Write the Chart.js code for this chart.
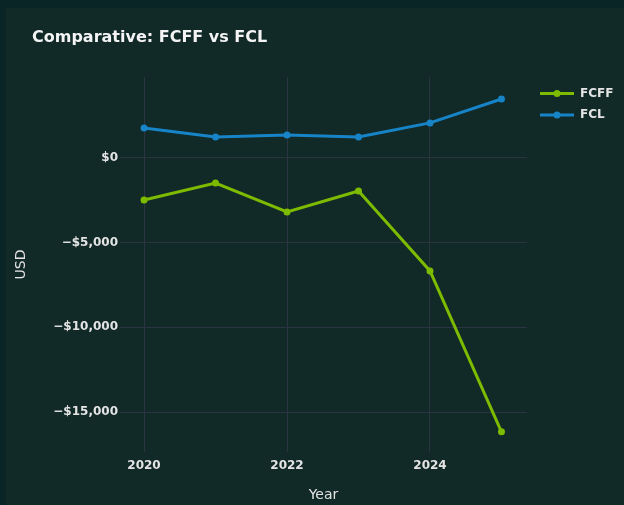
<!DOCTYPE html>
<html>
<head>
<meta charset="utf-8">
<title>Comparative: FCFF vs FCL</title>
<script src="https://cdn.jsdelivr.net/npm/chart.js@4"></script>
<style>
  html, body { margin: 0; padding: 0; width: 624px; height: 505px; overflow: hidden; background: #0a2525; }
  #wrap { position: absolute; left: 6px; top: 8px; width: 618px; height: 497px; background: #112927; }
</style>
</head>
<body>
<div id="wrap"><canvas id="myChart" width="618" height="497"></canvas></div>
<script>
// data
const years = [2020, 2021, 2022, 2023, 2024, 2025];
const fcff = [-2480, -1480, -3190, -1950, -6670, -16170];
const fcl = [1770, 1240, 1360, 1240, 2070, 3480];
const xTicks = [2020, 2022, 2024];
const yTicks = [0, -5000, -10000, -15000];

const textColor = '#e4e4e4';
const gridColor = '#2a3541';
const FONT = "'DejaVu Sans', Verdana, sans-serif";

function money(v) {
  if (v === 0) return '$0';
  return (v < 0 ? '\u2212' : '') + '$' + Math.abs(v).toLocaleString('en-US');
}

// title + plotly style legend drawn by hand
const extras = {
  id: 'extras',
  afterDraw(chart) {
    const ctx = chart.ctx;
    ctx.save();
    ctx.fillStyle = '#f4f4f4';
    ctx.font = 'bold 16px ' + FONT;
    ctx.textBaseline = 'alphabetic';
    ctx.fillText('Comparative: FCFF vs FCL', 26, 34);

    chart.data.datasets.forEach((ds, i) => {
      const y = 85.5 + i * 21.5;
      ctx.strokeStyle = ds.borderColor;
      ctx.lineWidth = 3;
      ctx.beginPath();
      ctx.moveTo(534, y);
      ctx.lineTo(568, y);
      ctx.stroke();
      ctx.fillStyle = ds.borderColor;
      ctx.beginPath();
      ctx.arc(551, y, 3.5, 0, Math.PI * 2);
      ctx.fill();
      ctx.fillStyle = textColor;
      ctx.font = 'bold 12px ' + FONT;
      ctx.textBaseline = 'middle';
      ctx.fillText(ds.label, 574, y);
    });
    ctx.restore();
  }
};

const ctx = document.getElementById('myChart');

new Chart(ctx, {
  type: 'line',
  data: {
    datasets: [{
      label: 'FCFF',
      data: years.map((x, i) => ({ x: x, y: fcff[i] })),
      borderColor: '#7dbb00',
      backgroundColor: '#7dbb00',
      borderWidth: 3,
      pointRadius: 3.5,
      pointBorderWidth: 0,
      tension: 0
    }, {
      label: 'FCL',
      data: years.map((x, i) => ({ x: x, y: fcl[i] })),
      borderColor: '#1784c7',
      backgroundColor: '#1784c7',
      borderWidth: 3,
      pointRadius: 3.5,
      pointBorderWidth: 0,
      tension: 0
    }]
  },
  options: {
    responsive: false,
    animation: false,
    devicePixelRatio: 1,
    layout: { padding: { top: 69, right: 97, left: 0, bottom: 0 } },
    plugins: {
      legend: { display: false },
      title: { display: false },
      tooltip: { enabled: false }
    },
    scales: {
      x: {
        type: 'linear',
        min: 2019.664,
        max: 2025.357,
        afterBuildTicks: s => { s.ticks = xTicks.map(v => ({ value: v })); },
        afterFit: s => { s.height = 53; },
        border: { display: false },
        grid: { color: gridColor, drawTicks: false, lineWidth: 1 },
        ticks: {
          callback: v => String(v),
          color: textColor,
          font: { family: FONT, size: 12, weight: 'bold' },
          padding: 7,
          maxRotation: 0,
          autoSkip: false
        },
        title: {
          display: true,
          text: 'Year',
          color: textColor,
          font: { family: FONT, size: 14, weight: 'normal' },
          padding: { top: 0, bottom: 1 }
        }
      },
      y: {
        min: -17360,
        max: 4780,
        afterBuildTicks: s => { s.ticks = yTicks.map(v => ({ value: v })); },
        afterFit: s => { s.width = 114; },
        border: { display: false },
        grid: { color: gridColor, drawTicks: false, lineWidth: 1 },
        ticks: {
          callback: v => money(v),
          color: textColor,
          font: { family: FONT, size: 12, weight: 'bold' },
          padding: 2
        },
        title: {
          display: true,
          text: 'USD',
          color: textColor,
          font: { family: FONT, size: 14, weight: 'normal' },
          padding: { top: 7, bottom: 0 }
        }
      }
    }
  },
  plugins: [extras]
});
</script>
</body>
</html>
